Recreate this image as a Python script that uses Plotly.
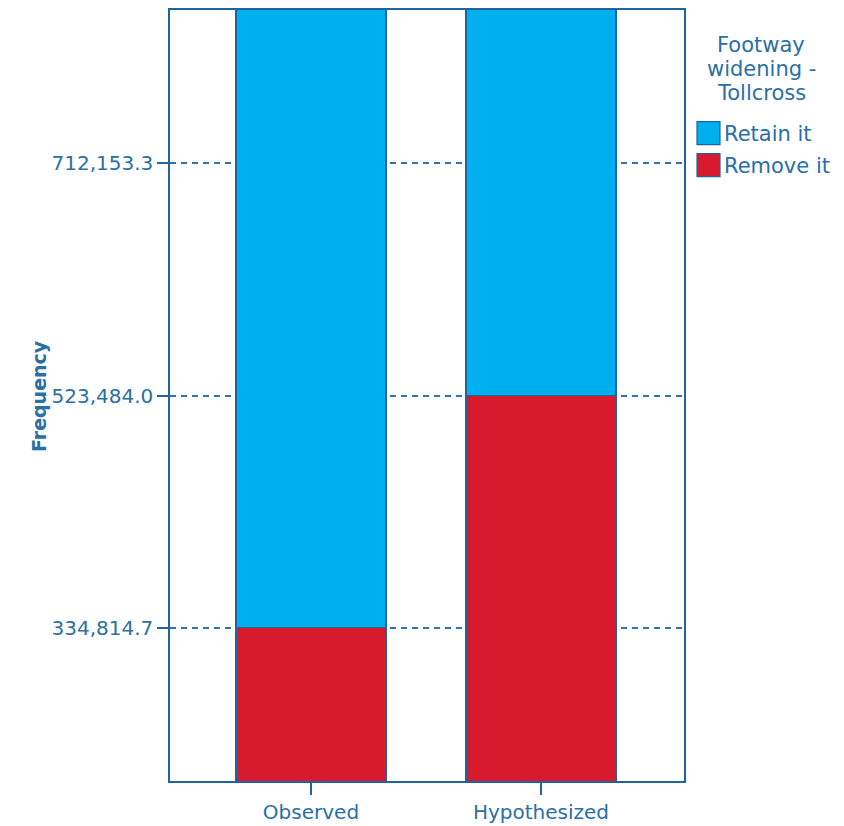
import plotly.graph_objects as go

categories = ["Observed", "Hypothesized"]
remove_it = [334814.7, 523484.0]
retain_it = [712153.3, 523484.0]
tick_vals = [334814.7, 523484.0, 712153.3]
tick_text = ["334,814.7", "523,484.0", "712,153.3"]
legend_title_lines = ["Footway", "widening -", "Tollcross"]
series_names = ["Retain it", "Remove it"]
y_title = "Frequency"

BLUE_TXT = "#2a6fa6"
LINE = "#1f64a0"
C_RETAIN = "#00b0ee"
C_REMOVE = "#d71a2e"
FONT = "DejaVu Sans"

# page offset compensation (body margin)
OX, OY = 8, 8
PL, PR, PT, PB = 170, 684, 7, 781  # target plot area in page px
ML, MR, MT, MB = PL - OX, 844 - (PR - OX), 0, 826 - (PB - OY)
PW, PH = PR - PL, PB - (PT + 1)


def px(xp):
    return (xp - PL) / PW


def py(yp):
    return 1 - (yp - (PT + 1)) / PH


fig = go.Figure()
fig.add_trace(go.Bar(x=categories, y=remove_it, name=series_names[1],
                     marker=dict(color=C_REMOVE, line=dict(color=LINE, width=1.2)),
                     width=0.652, showlegend=False))
fig.add_trace(go.Bar(x=categories, y=retain_it, name=series_names[0],
                     marker=dict(color=C_RETAIN, line=dict(color=LINE, width=1.2)),
                     width=0.652, showlegend=False))

fig.update_layout(
    width=844, height=826,
    barmode="stack",
    plot_bgcolor="white", paper_bgcolor="white",
    margin=dict(l=ML, r=MR, t=MT, b=MB),
    font=dict(family=FONT, color=BLUE_TXT, size=20),
    xaxis=dict(range=[-0.613, 1.622], showline=True, mirror=True, linecolor=LINE, linewidth=1.5,
               ticks="outside", ticklen=12, tickcolor=LINE, tickwidth=1.5,
               tickfont=dict(size=20, color=BLUE_TXT, family=FONT), showgrid=False, zeroline=False),
    yaxis=dict(range=[210115, 836853], showline=True, mirror=True, linecolor=LINE, linewidth=1.5,
               tickvals=tick_vals, ticktext=tick_text,
               ticks="outside", ticklen=11, tickcolor=LINE, tickwidth=1.5,
               tickfont=dict(size=20, color=BLUE_TXT, family=FONT),
               showgrid=True, gridcolor="#2f74ad", gridwidth=1.6, griddash="6px,5px", zeroline=False),
)

# y-axis title
fig.add_annotation(xref="paper", yref="paper", x=px(39), y=py(395), textangle=-90,
                   xanchor="center", yanchor="middle", showarrow=False,
                   text="<b>" + y_title + "</b>", font=dict(size=19, color=BLUE_TXT, family=FONT))

# manual legend
for i, line in enumerate(legend_title_lines):
    fig.add_annotation(xref="paper", yref="paper", x=px(761), y=py(43 + i * 24),
                       xanchor="center", yanchor="middle", showarrow=False,
                       text=line, font=dict(size=21, color=BLUE_TXT, family=FONT))
for i, (name, col) in enumerate(zip(series_names, [C_RETAIN, C_REMOVE])):
    y0 = 120 + i * 32
    fig.add_shape(type="rect", xref="paper", yref="paper",
                  x0=px(697), x1=px(720), y0=py(y0 + 23), y1=py(y0),
                  fillcolor=col, line=dict(color=LINE, width=1.2))
    fig.add_annotation(xref="paper", yref="paper", x=px(722), y=py(y0 + 12),
                       xanchor="left", yanchor="middle", showarrow=False,
                       text=name, font=dict(size=21, color=BLUE_TXT, family=FONT))

fig.write_html("out.html")
